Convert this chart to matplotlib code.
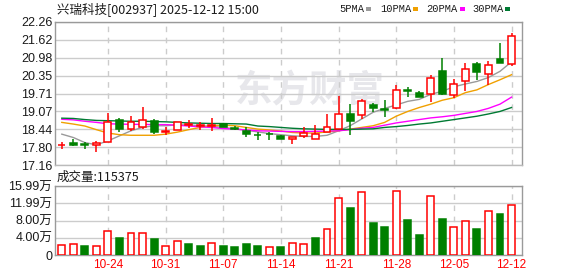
import numpy as np
import matplotlib
matplotlib.use('Agg')
import matplotlib.pyplot as plt
from matplotlib.patches import Rectangle

plt.rcParams['font.family'] = ['Liberation Sans', 'Noto Sans CJK SC', 'DejaVu Sans']

# ---- data ----
title = '兴瑞科技[002937] 2025-12-12 15:00'
dates = ['10-20', '10-21', '10-22', '10-23', '10-24',
         '10-27', '10-28', '10-29', '10-30', '10-31',
         '11-03', '11-04', '11-05', '11-06', '11-07',
         '11-10', '11-11', '11-12', '11-13', '11-14',
         '11-17', '11-18', '11-19', '11-20', '11-21',
         '11-24', '11-25', '11-26', '11-27', '11-28',
         '12-01', '12-02', '12-03', '12-04', '12-05',
         '12-08', '12-09', '12-10', '12-11', '12-12']
date_ticks = ['10-24', '10-31', '11-07', '11-14', '11-21', '11-28', '12-05', '12-12']

opens = [17.86, 17.93, 17.92, 17.86, 17.99, 18.76, 18.46, 18.51, 18.72, 18.32,
         18.41, 18.60, 18.55, 18.54, 18.64, 18.47, 18.38, 18.24, 18.27, 18.20,
         18.10, 18.20, 18.10, 18.32, 18.46, 18.99, 18.94, 19.30, 19.14, 19.19,
         19.84, 19.71, 19.68, 20.52, 19.67, 20.17, 20.75, 20.40, 20.94, 20.75]
highs = [17.98, 18.07, 17.98, 18.03, 19.01, 18.83, 18.89, 19.23, 18.79, 18.52,
         18.70, 18.76, 18.68, 18.83, 18.66, 18.54, 18.50, 18.32, 18.35, 18.23,
         18.17, 18.53, 18.59, 18.98, 19.63, 19.34, 19.52, 19.37, 19.48, 20.03,
         19.93, 19.79, 20.38, 20.98, 20.24, 20.81, 20.83, 20.87, 21.51, 21.85]
lows = [17.74, 17.82, 17.74, 17.63, 17.99, 18.35, 18.38, 18.43, 18.27, 18.23,
        18.40, 18.48, 18.41, 18.38, 18.50, 18.40, 18.16, 18.05, 18.05, 18.07,
        17.90, 18.11, 18.10, 18.32, 18.44, 18.22, 18.80, 19.04, 18.86, 19.17,
        19.58, 19.57, 19.42, 19.67, 19.56, 19.79, 20.20, 20.03, 20.79, 20.68]
closes = [17.86, 17.86, 17.87, 17.94, 18.69, 18.45, 18.69, 18.76, 18.34, 18.38,
          18.68, 18.62, 18.58, 18.59, 18.52, 18.45, 18.26, 18.22, 18.25, 18.10,
          18.17, 18.29, 18.28, 18.53, 18.98, 18.74, 19.43, 19.18, 19.12, 19.84,
          19.81, 19.60, 20.26, 19.71, 20.05, 20.58, 20.47, 20.74, 20.79, 21.75]

ma5 = [18.26, 18.14, 17.96, 17.88, 18.02, 18.20, 18.38, 18.50, 18.56, 18.56,
       18.59, 18.59, 18.56, 18.54, 18.50, 18.45, 18.40, 18.34, 18.28, 18.24,
       18.20, 18.18, 18.18, 18.22, 18.38, 18.56, 18.80, 19.04, 19.18, 19.30,
       19.43, 19.50, 19.68, 19.79, 19.95, 20.05, 20.14, 20.28, 20.50, 20.84]
ma10 = [18.68, 18.62, 18.55, 18.42, 18.30, 18.24, 18.22, 18.22, 18.22, 18.26,
        18.33, 18.42, 18.50, 18.56, 18.58, 18.56, 18.50, 18.44, 18.41, 18.37,
        18.32, 18.30, 18.30, 18.34, 18.38, 18.44, 18.50, 18.56, 18.68, 18.90,
        19.07, 19.21, 19.33, 19.47, 19.56, 19.74, 19.84, 20.03, 20.20, 20.38]
ma20 = [18.79, 18.77, 18.72, 18.68, 18.63, 18.62, 18.61, 18.61, 18.60, 18.60,
        18.58, 18.55, 18.52, 18.50, 18.46, 18.44, 18.41, 18.38, 18.37, 18.36,
        18.35, 18.35, 18.36, 18.37, 18.38, 18.42, 18.47, 18.50, 18.58, 18.66,
        18.72, 18.78, 18.84, 18.88, 18.93, 19.00, 19.07, 19.18, 19.33, 19.58]
ma30 = [18.83, 18.82, 18.78, 18.75, 18.74, 18.73, 18.72, 18.72, 18.71, 18.70,
        18.68, 18.66, 18.65, 18.64, 18.64, 18.63, 18.62, 18.55, 18.53, 18.50,
        18.47, 18.45, 18.44, 18.43, 18.43, 18.43, 18.44, 18.45, 18.50, 18.53,
        18.57, 18.62, 18.66, 18.72, 18.78, 18.84, 18.90, 18.98, 19.07, 19.21]

# volume in 万 shares; True = red (hollow) bar
volumes = [2.3, 2.5, 2.1, 2.0, 5.5, 3.9, 5.2, 5.0, 3.7, 2.2,
           3.2, 2.5, 2.1, 2.7, 2.1, 1.85, 2.5, 2.1, 1.8, 1.85,
           2.7, 2.5, 3.9, 5.95, 13.1, 10.9, 14.5, 7.4, 6.5, 14.8,
           8.1, 4.6, 13.6, 8.3, 6.4, 7.8, 6.0, 10.1, 9.6, 11.5375]
vol_up = [True, True, False, True, True, False, True, True, False, True,
          True, False, False, True, False, False, False, False, True, False,
          True, True, False, True, True, False, True, False, False, True,
          False, False, True, False, True, True, False, True, False, True]
last_volume = 115375

price_min, price_max = 17.16, 22.26
price_labels = ['17.16', '17.80', '18.44', '19.07', '19.71', '20.35', '20.98', '21.62', '22.26']
vol_max = 15.99
vol_labels = ['0', '4.00万', '8.00万', '11.99万', '15.99万']

ma_names = ['5PMA', '10PMA', '20PMA', '30PMA']
ma_colors = ['#9a9a9a', '#f0a000', '#ff00ff', '#007a33']

RED = '#ff0000'
GREEN = '#008000'
GRID = '#cccccc'
FRAME = '#9a9a9a'
TXT = '#1a1a1a'

W, H = 578, 276
fig = plt.figure(figsize=(W / 100, H / 100), dpi=100)
ax = fig.add_axes([55 / W, 1 - 165 / H, 467 / W, 143 / H])
axv = fig.add_axes([55 / W, 1 - 255 / H, 467 / W, 69 / H])

x = np.arange(len(dates))
tick_pos = [dates.index(d) for d in date_ticks]
bw = 0.6

# ---- price panel ----
o = np.array(opens)
c = np.array(closes)
hi = np.array(highs)
lo = np.array(lows)
up = c >= o
top = np.maximum(o, c)
bot = np.minimum(o, c)

# wicks: red candles are hollow, so the wick stops at the body
ax.vlines(x[up], top[up], hi[up], color=RED, lw=1.1, zorder=4)
ax.vlines(x[up], lo[up], bot[up], color=RED, lw=1.1, zorder=4)
ax.vlines(x[~up], lo[~up], hi[~up], color=GREEN, lw=1.1, zorder=4)
ax.bar(x[up], top[up] - bot[up], bottom=bot[up], width=bw,
       facecolor='white', edgecolor=RED, lw=1.1, zorder=5)
ax.bar(x[~up], top[~up] - bot[~up], bottom=bot[~up], width=bw,
       facecolor=GREEN, edgecolor=GREEN, lw=1.1, zorder=5)

for vals, col in zip([ma5, ma10, ma20, ma30], ma_colors):
    ax.plot(x, vals, color=col, lw=1.0, zorder=3)

ax.text(0.545, 0.515, '东方财富', transform=ax.transAxes, ha='center', va='center',
        fontsize=27, fontweight='bold', color='#e7e7eb', zorder=0,
        family=['Noto Sans CJK SC'])

ax.set_xlim(-0.59, 39.91)
ax.set_ylim(price_min, price_max)
ax.set_yticks(np.linspace(price_min, price_max, len(price_labels)))
ax.set_yticklabels(price_labels)
ax.set_xticks(tick_pos)
ax.set_xticklabels([])
ax.grid(axis='y', color=GRID, lw=1.0, ls='-')
ax.grid(axis='x', color=GRID, lw=1.0, ls=(0, (4, 4)))
ax.set_axisbelow(True)

# ---- volume panel ----
v = np.array(volumes)
vu = np.array(vol_up)
axv.bar(x[vu], v[vu], width=bw, facecolor='white', edgecolor=RED, lw=1.1, zorder=3)
axv.bar(x[~vu], v[~vu], width=bw, facecolor=GREEN, edgecolor=GREEN, lw=1.1, zorder=3)
axv.set_xlim(-0.59, 39.91)
axv.set_ylim(0, vol_max)
axv.set_yticks(np.linspace(0, vol_max, len(vol_labels)))
axv.set_yticklabels(vol_labels)
axv.set_xticks(tick_pos)
axv.set_xticklabels(date_ticks, color=RED, fontsize=8.5)
axv.grid(axis='y', color=GRID, lw=1.0, ls='-')
axv.grid(axis='x', color=GRID, lw=1.0, ls=(0, (4, 4)))
axv.set_axisbelow(True)

for a in (ax, axv):
    a.tick_params(axis='both', length=0, pad=2, labelsize=9, colors=TXT)
    for s in a.spines.values():
        s.set_color(FRAME)
        s.set_linewidth(1.0)
ax.spines['bottom'].set_color('#bbbbbb')
axv.tick_params(axis='x', colors=RED, labelsize=8.5, pad=3)

# ---- header texts ----
fig.text(57 / W, 1 - 9 / H, title, ha='left', va='center', fontsize=9, color=TXT,
         family=['Noto Sans CJK SC'])
fig.text(57 / W, 1 - 177 / H, '成交量:%d' % last_volume, ha='left', va='center',
         fontsize=9, color=TXT, family=['Noto Sans CJK SC'])

leg_x = [339, 380, 426, 472]
sq_x = [366, 413, 460, 505]
for name, col, tx, sx in zip(ma_names, ma_colors, leg_x, sq_x):
    fig.text(tx / W, 1 - 9 / H, name, ha='left', va='center', fontsize=7.5,
             color=TXT, family=['Liberation Mono'])
    fig.patches.append(Rectangle((sx / W, 1 - 11 / H), 5 / W, 4 / H,
                                 transform=fig.transFigure, facecolor=col,
                                 edgecolor='none'))

fig.savefig('out.png', dpi=100)
